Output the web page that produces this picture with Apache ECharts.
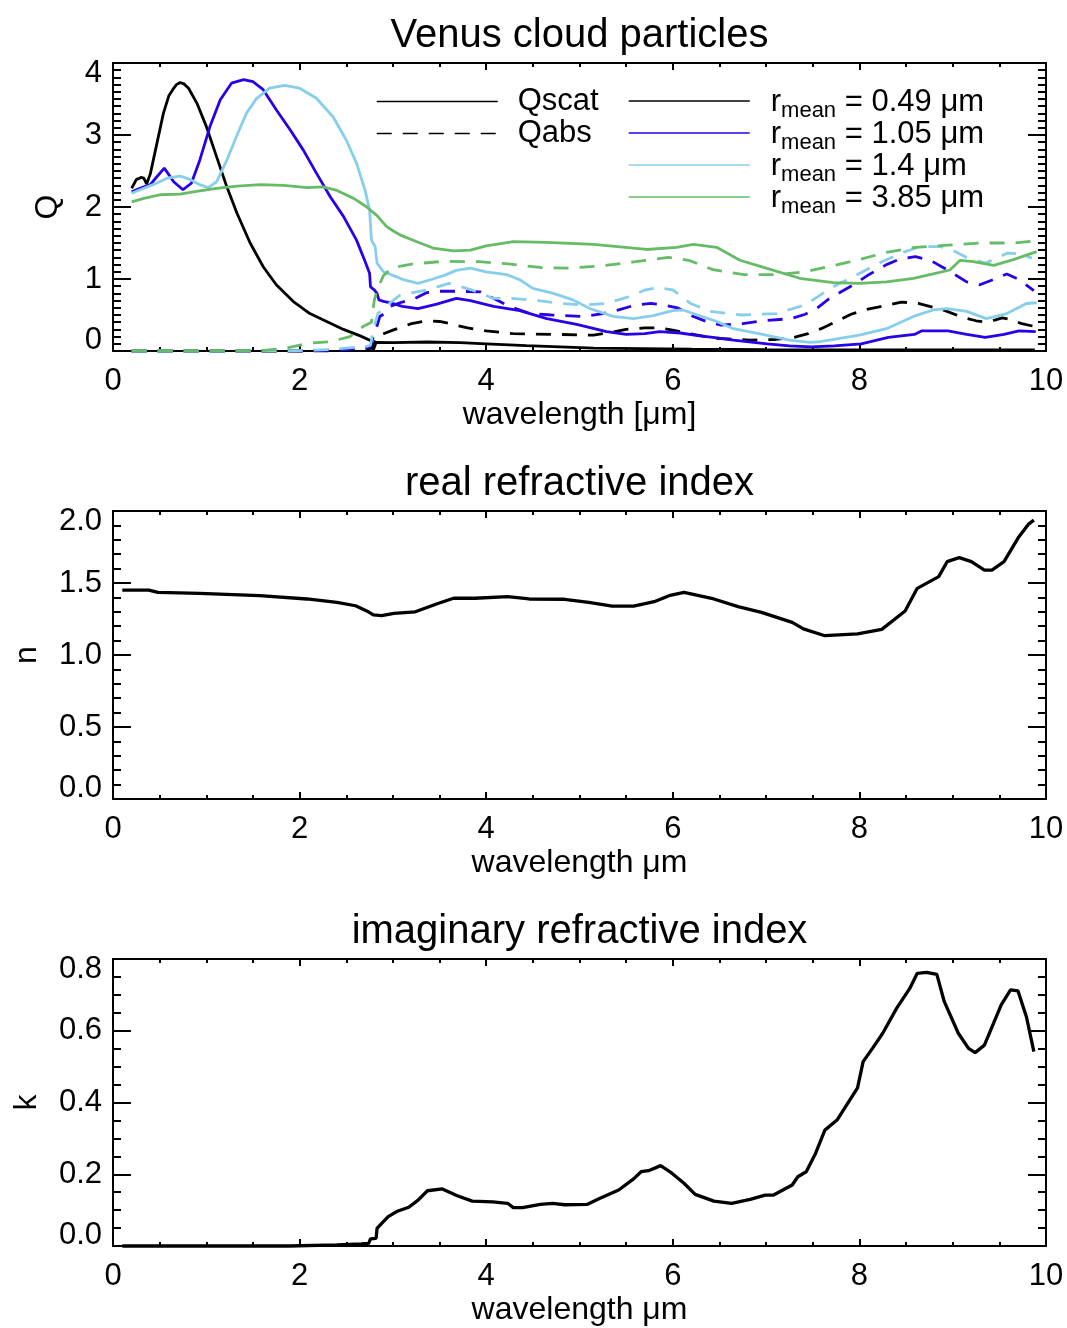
<!DOCTYPE html>
<html>
<head>
<meta charset="utf-8">
<script src="https://cdn.jsdelivr.net/npm/echarts@6/dist/echarts.min.js"></script>
<style>
  html, body { margin: 0; padding: 0; background: #ffffff; }
  #chart { width: 1067px; height: 1328px; }
</style>
</head>
<body>
<div id="chart"></div>
<script>
// Fonts and colours
const FONT = '"Liberation Sans", Helvetica, Arial, sans-serif';
const BLACK = '#000000';
const BLUE = '#2a00e8';
const SKY = '#87ceeb';
const GREEN = '#66bb66';

// Mean particle radii (µm)
const radii = ['0.49', '1.05', '1.4', '3.85'];

// Scattering efficiency Qscat, [wavelength µm, Q]
const qscat049 = [[0.20,2.26],[0.25,2.38],[0.30,2.41],[0.33,2.40],[0.36,2.32],[0.40,2.46],[0.47,2.88],[0.54,3.30],[0.60,3.55],[0.64,3.63],[0.68,3.70],[0.72,3.73],[0.76,3.71],[0.81,3.65],[0.90,3.44],[1.00,3.12],[1.11,2.70],[1.22,2.28],[1.33,1.91],[1.47,1.50],[1.61,1.17],[1.75,0.92],[1.93,0.69],[2.11,0.52],[2.29,0.41],[2.47,0.30],[2.65,0.21],[2.77,0.14],[2.78,0.08],[2.79,0.01],[2.81,0.03],[2.82,0.12],[3.00,0.115],[3.37,0.125],[3.72,0.115],[4.00,0.10],[4.43,0.075],[5.15,0.04],[6.20,0.025],[7.00,0.02],[8.00,0.015],[9.00,0.015],[9.88,0.015]];
const qscat105 = [[0.20,2.21],[0.29,2.26],[0.40,2.31],[0.47,2.42],[0.55,2.54],[0.65,2.35],[0.75,2.24],[0.84,2.33],[0.93,2.65],[1.04,3.12],[1.15,3.49],[1.27,3.72],[1.40,3.77],[1.50,3.74],[1.61,3.63],[1.75,3.35],[1.90,3.07],[2.04,2.79],[2.18,2.47],[2.33,2.14],[2.47,1.87],[2.61,1.54],[2.70,1.25],[2.75,1.08],[2.76,0.89],[2.80,0.85],[2.83,0.80],[2.85,0.71],[2.90,0.69],[3.00,0.66],[3.10,0.62],[3.27,0.59],[3.47,0.65],[3.68,0.73],[3.83,0.70],[4.08,0.62],[4.36,0.56],[4.65,0.45],[4.97,0.37],[5.29,0.27],[5.50,0.23],[5.70,0.24],[5.86,0.27],[6.08,0.25],[6.29,0.21],[6.43,0.19],[6.65,0.15],[7.01,0.10],[7.25,0.07],[7.48,0.056],[7.73,0.07],[8.02,0.10],[8.31,0.19],[8.59,0.23],[8.67,0.28],[8.95,0.28],[9.15,0.23],[9.35,0.19],[9.55,0.23],[9.71,0.28],[9.89,0.27]];
const qscat140 = [[0.20,2.19],[0.33,2.26],[0.43,2.31],[0.58,2.40],[0.72,2.43],[0.83,2.38],[0.93,2.31],[1.02,2.27],[1.11,2.35],[1.22,2.65],[1.33,3.00],[1.43,3.30],[1.54,3.51],[1.68,3.65],[1.84,3.69],[2.00,3.65],[2.18,3.51],[2.36,3.25],[2.50,2.93],[2.61,2.61],[2.70,2.24],[2.75,1.96],[2.77,1.54],[2.81,1.45],[2.83,1.22],[2.90,1.10],[3.04,1.03],[3.11,0.99],[3.27,0.94],[3.43,1.00],[3.55,1.05],[3.68,1.12],[3.83,1.15],[4.00,1.10],[4.22,1.06],[4.36,0.99],[4.50,0.87],[4.72,0.80],[4.93,0.71],[5.11,0.59],[5.36,0.48],[5.58,0.45],[5.79,0.49],[6.00,0.56],[6.11,0.57],[6.29,0.49],[6.45,0.42],[6.65,0.31],[7.00,0.22],[7.25,0.15],[7.47,0.12],[7.58,0.13],[8.00,0.22],[8.29,0.31],[8.58,0.48],[8.79,0.57],[8.94,0.59],[9.15,0.55],[9.36,0.45],[9.58,0.52],[9.79,0.66],[9.90,0.67]];
const qscat385 = [[0.20,2.07],[0.33,2.12],[0.50,2.17],[0.72,2.18],[0.86,2.21],[1.11,2.26],[1.33,2.29],[1.58,2.31],[1.83,2.30],[2.08,2.27],[2.25,2.28],[2.40,2.23],[2.58,2.12],[2.72,2.00],[2.83,1.88],[2.93,1.73],[3.00,1.67],[3.08,1.61],[3.25,1.52],[3.43,1.43],[3.65,1.39],[3.83,1.40],[4.00,1.46],[4.29,1.52],[4.65,1.51],[5.15,1.48],[5.72,1.41],[6.04,1.44],[6.22,1.48],[6.47,1.44],[6.72,1.26],[7.00,1.15],[7.36,1.01],[7.72,0.95],[8.00,0.94],[8.29,0.96],[8.58,1.01],[8.79,1.07],[8.97,1.125],[9.08,1.26],[9.22,1.24],[9.44,1.19],[9.65,1.27],[9.90,1.38]];

// Absorption efficiency Qabs, [wavelength µm, Q]
const qabs049 = [[0.20,0.0],[1.00,0.0],[2.00,0.0],[2.50,0.005],[2.70,0.02],[2.78,0.04],[2.80,0.10],[2.83,0.20],[2.90,0.24],[3.00,0.29],[3.20,0.38],[3.36,0.42],[3.50,0.41],[3.61,0.38],[3.80,0.32],[4.00,0.28],[4.29,0.24],[4.79,0.23],[5.15,0.22],[5.35,0.26],[5.50,0.30],[5.70,0.32],[5.86,0.32],[6.00,0.29],[6.22,0.23],[6.43,0.18],[6.83,0.15],[7.10,0.16],[7.30,0.19],[7.45,0.24],[7.59,0.31],[7.75,0.41],[7.91,0.51],[8.05,0.57],[8.20,0.61],[8.45,0.68],[8.63,0.66],[8.88,0.58],[9.10,0.47],[9.25,0.42],[9.35,0.40],[9.45,0.43],[9.53,0.46],[9.62,0.44],[9.74,0.38],[9.88,0.34]];
const qabs105 = [[0.20,0.0],[1.50,0.0],[2.20,0.005],[2.50,0.02],[2.70,0.04],[2.76,0.06],[2.78,0.15],[2.80,0.25],[2.83,0.35],[2.86,0.48],[2.91,0.52],[2.97,0.62],[3.10,0.68],[3.22,0.72],[3.36,0.81],[3.50,0.83],[3.70,0.83],[3.94,0.82],[4.08,0.73],[4.25,0.62],[4.47,0.52],[4.70,0.50],[5.04,0.48],[5.25,0.52],[5.42,0.57],[5.60,0.64],[5.76,0.66],[5.90,0.64],[6.05,0.60],[6.20,0.49],[6.38,0.40],[6.52,0.36],[6.75,0.38],[6.96,0.42],[7.27,0.45],[7.42,0.51],[7.55,0.60],[7.67,0.72],[7.80,0.82],[7.95,0.93],[8.10,1.06],[8.29,1.20],[8.44,1.28],[8.60,1.31],[8.76,1.26],[8.95,1.12],[9.15,0.96],[9.29,0.92],[9.45,1.00],[9.58,1.07],[9.70,1.00],[9.87,0.84]];
const qabs140 = [[0.20,0.0],[1.50,0.0],[2.00,0.005],[2.30,0.02],[2.50,0.04],[2.70,0.06],[2.76,0.08],[2.79,0.30],[2.84,0.52],[2.95,0.65],[3.08,0.78],[3.37,0.85],[3.60,0.94],[3.84,0.85],[4.08,0.73],[4.27,0.73],[4.56,0.70],[4.80,0.66],[5.04,0.64],[5.28,0.66],[5.52,0.75],[5.71,0.85],[5.85,0.88],[6.00,0.85],[6.19,0.66],[6.40,0.55],[6.74,0.50],[7.11,0.52],[7.42,0.64],[7.70,0.88],[7.99,1.07],[8.24,1.24],[8.45,1.36],[8.65,1.45],[8.87,1.45],[9.00,1.40],[9.15,1.30],[9.35,1.22],[9.59,1.36],[9.70,1.35],[9.85,1.29]];
const qabs385 = [[0.20,0.0],[1.00,0.0],[1.60,0.005],[1.86,0.04],[2.11,0.11],[2.33,0.13],[2.54,0.20],[2.68,0.34],[2.77,0.40],[2.80,0.70],[2.83,0.85],[2.90,1.05],[3.00,1.16],[3.22,1.21],[3.54,1.245],[3.92,1.24],[4.24,1.21],[4.58,1.16],[4.88,1.15],[5.26,1.185],[5.60,1.24],[5.95,1.30],[6.17,1.26],[6.43,1.13],[6.76,1.06],[7.11,1.06],[7.42,1.10],[7.70,1.18],[8.00,1.27],[8.29,1.37],[8.60,1.44],[8.95,1.47],[9.31,1.50],[9.67,1.50],[9.88,1.53]];

// Refractive index of the cloud material, [wavelength µm, value]
const nReal = [[0.10,1.451],[0.385,1.451],[0.48,1.435],[0.93,1.428],[1.57,1.412],[2.08,1.389],[2.40,1.366],[2.60,1.342],[2.72,1.306],[2.79,1.278],[2.88,1.273],[3.01,1.289],[3.24,1.300],[3.49,1.359],[3.65,1.394],[3.88,1.394],[4.23,1.405],[4.46,1.389],[4.84,1.387],[5.10,1.366],[5.35,1.340],[5.58,1.340],[5.80,1.370],[5.96,1.412],[6.12,1.435],[6.44,1.389],[6.70,1.336],[6.95,1.296],[7.28,1.227],[7.40,1.181],[7.63,1.134],[7.98,1.146],[8.24,1.178],[8.49,1.306],[8.62,1.463],[8.85,1.544],[8.94,1.648],[9.07,1.676],[9.20,1.648],[9.34,1.590],[9.42,1.590],[9.55,1.648],[9.71,1.822],[9.81,1.907],[9.87,1.937]];
const kImag = [[0.10,0.0],[1.00,0.0],[1.89,0.0],[2.40,0.003],[2.66,0.006],[2.74,0.007],[2.76,0.020],[2.82,0.021],[2.83,0.049],[2.88,0.063],[2.95,0.082],[3.04,0.096],[3.17,0.108],[3.27,0.128],[3.37,0.154],[3.53,0.159],[3.69,0.140],[3.85,0.125],[4.07,0.123],[4.23,0.119],[4.29,0.107],[4.39,0.107],[4.58,0.116],[4.71,0.119],[4.84,0.115],[5.08,0.116],[5.22,0.133],[5.42,0.156],[5.58,0.187],[5.66,0.207],[5.74,0.210],[5.87,0.224],[5.99,0.203],[6.12,0.175],[6.24,0.144],[6.44,0.125],[6.63,0.119],[6.83,0.130],[6.99,0.142],[7.08,0.142],[7.28,0.170],[7.34,0.193],[7.43,0.207],[7.53,0.258],[7.63,0.323],[7.76,0.351],[7.98,0.441],[8.04,0.514],[8.14,0.551],[8.25,0.593],[8.40,0.663],[8.54,0.718],[8.62,0.760],[8.72,0.763],[8.83,0.757],[8.91,0.681],[9.06,0.593],[9.17,0.551],[9.24,0.539],[9.34,0.560],[9.52,0.672],[9.62,0.714],[9.70,0.711],[9.79,0.639],[9.87,0.542]];

// Axis ranges: [min, max, major step, minor divisions]
const xRange = [0, 10, 2, 4];
const qRange = [0, 4, 1, 10];
const nRange = [0, 2, 0.5, 5];
const kRange = [0, 0.8, 0.2, 4];

const titles = ['Venus cloud particles', 'real refractive index', 'imaginary refractive index'];
const xNames = ['wavelength [\u03bcm]', 'wavelength \u03bcm', 'wavelength \u03bcm'];
const yNames = ['Q', 'n', 'k'];

// Panel boxes in pixels
const panels = [
  { top: 63, height: 288 },
  { top: 511, height: 288 },
  { top: 959, height: 287 }
];
const LEFT = 113, WIDTH = 933;

const chart = echarts.init(document.getElementById('chart'), null, { renderer: 'canvas' });

const tickLine = { color: BLACK, width: 2 };
const textBase = { color: BLACK, fontFamily: FONT };

function xAxesFor(gi) {
  const base = {
    type: 'value', gridIndex: gi,
    min: xRange[0], max: xRange[1], interval: xRange[2],
    axisLine: { show: true, onZero: false, lineStyle: { color: BLACK, width: 2 } },
    axisTick: { show: true, inside: true, length: 7, lineStyle: tickLine },
    minorTick: { show: true, splitNumber: xRange[3], length: 4, lineStyle: tickLine },
    splitLine: { show: false }, minorSplitLine: { show: false }
  };
  return [
    Object.assign({}, base, {
      position: 'bottom',
      name: xNames[gi], nameLocation: 'middle', nameGap: 48,
      nameTextStyle: Object.assign({ fontSize: 32 }, textBase),
      axisLabel: Object.assign({ show: true, fontSize: 31, margin: 15 }, textBase)
    }),
    Object.assign({}, base, { position: 'top', axisLabel: { show: false } })
  ];
}

function yAxesFor(gi, range, decimals, nameGap) {
  const base = {
    type: 'value', gridIndex: gi,
    min: range[0], max: range[1], interval: range[2],
    axisLine: { show: true, onZero: false, lineStyle: { color: BLACK, width: 2 } },
    axisTick: { show: true, inside: true, length: 18, lineStyle: tickLine },
    minorTick: { show: true, splitNumber: range[3], length: 8, lineStyle: tickLine },
    splitLine: { show: false }, minorSplitLine: { show: false }
  };
  return [
    Object.assign({}, base, {
      position: 'left',
      name: yNames[gi], nameLocation: 'middle', nameGap: nameGap,
      nameTextStyle: Object.assign({ fontSize: 32 }, textBase),
      axisLabel: Object.assign({
        show: true, fontSize: 31, lineHeight: 21, margin: 11,
        verticalAlignMinLabel: 'bottom', verticalAlignMaxLabel: 'top',
        formatter: v => v.toFixed(decimals)
      }, textBase)
    }),
    Object.assign({}, base, { position: 'right', axisLabel: { show: false } })
  ];
}

function lineSeries(name, data, color, width, dashed, xi) {
  return {
    name: name, type: 'line', xAxisIndex: xi, yAxisIndex: xi,
    data: data, symbol: 'none', showSymbol: false, clip: false,
    color: color, itemStyle: { color: color },
    lineStyle: { color: color, width: width, type: dashed ? [15, 11] : 'solid' },
    emphasis: { disabled: true }, silent: true, animation: false
  };
}

const qscatSets = [qscat049, qscat105, qscat140, qscat385];
const qabsSets = [qabs049, qabs105, qabs140, qabs385];
const colors = [BLACK, BLUE, SKY, GREEN];
const radiusNames = radii.map(r => 'r_mean = ' + r + ' \u03bcm');

const series = [
  lineSeries('Qscat', [], BLACK, 2.8, false, 0),
  lineSeries('Qabs', [], BLACK, 2.8, true, 0)
];
radii.forEach((r, i) => {
  series.push(lineSeries(radiusNames[i], qscatSets[i], colors[i], 2.8, false, 0));
  series.push(lineSeries('Qabs ' + r, qabsSets[i], colors[i], 2.8, true, 0));
});
series.push(lineSeries('n', nReal, BLACK, 3.3, false, 2));
series.push(lineSeries('k', kImag, BLACK, 3.3, false, 4));

const option = {
  backgroundColor: '#ffffff',
  animation: false,
  title: titles.map((t, i) => ({
    text: t, left: LEFT + WIDTH / 2, top: panels[i].top - 27,
    textAlign: 'center', textVerticalAlign: 'middle', padding: 0,
    textStyle: Object.assign({ fontSize: 40, fontWeight: 'normal' }, textBase)
  })),
  grid: panels.map(p => ({
    left: LEFT, top: p.top, width: WIDTH, height: p.height,
    containLabel: false, outerBoundsMode: 'none'
  })),
  xAxis: [].concat(xAxesFor(0), xAxesFor(1), xAxesFor(2)),
  yAxis: [].concat(yAxesFor(0, qRange, 0, 49), yAxesFor(1, nRange, 1, 70), yAxesFor(2, kRange, 1, 70)),
  legend: [
    {
      data: ['Qscat', 'Qabs'], orient: 'vertical', left: 376, top: 86, padding: 0,
      itemWidth: 121, itemHeight: 14, itemGap: 1, selectedMode: false,
      lineStyle: { width: 1.5 }, itemStyle: { opacity: 0 },
      textStyle: Object.assign({ fontSize: 31, lineHeight: 28, padding: [0, 0, 0, 15] }, textBase)
    },
    {
      data: radiusNames, orient: 'vertical', left: 628, top: 87, padding: 0,
      itemWidth: 121, itemHeight: 14, itemGap: -3, selectedMode: false,
      lineStyle: { width: 1.5 }, itemStyle: { opacity: 0 },
      formatter: name => '{m|r}{s|mean}{m|' + name.replace('r_mean', '') + '}',
      textStyle: Object.assign({
        fontSize: 31, padding: [2, 0, 0, 16],
        rich: {
          m: { fontSize: 31, lineHeight: 30, verticalAlign: 'top', color: BLACK, fontFamily: FONT },
          s: { fontSize: 22, lineHeight: 20, verticalAlign: 'top', padding: [13, 0, 0, 0], color: BLACK, fontFamily: FONT }
        }
      }, textBase)
    }
  ],
  series: series
};

chart.setOption(option);
</script>
</body>
</html>
